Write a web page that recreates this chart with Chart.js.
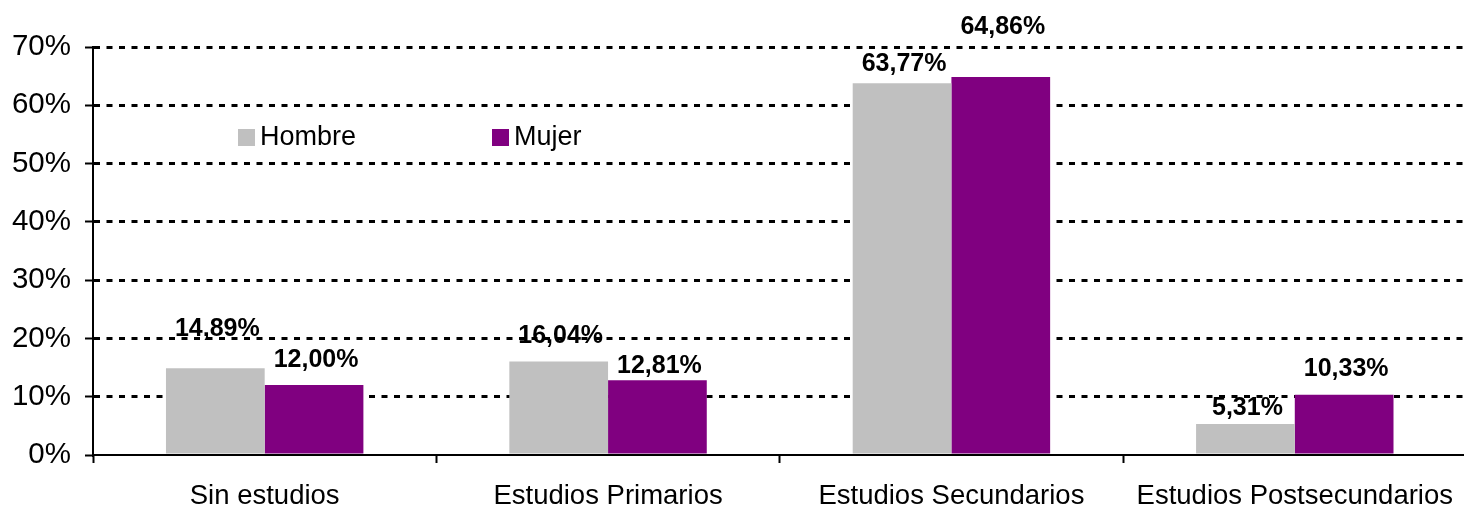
<!DOCTYPE html>
<html>
<head>
<meta charset="utf-8">
<script src="https://cdn.jsdelivr.net/npm/chart.js@4/dist/chart.umd.min.js"></script>
<style>
  html, body { margin: 0; padding: 0; background: #fff; overflow: hidden; }
  #wrap { width: 1470px; height: 507px; position: relative; }
</style>
</head>
<body>
<div id="wrap"><canvas id="eduChart"></canvas></div>
<script>
// Datos
const categorias = ['Sin estudios', 'Estudios Primarios', 'Estudios Secundarios', 'Estudios Postsecundarios'];
const hombre = [14.89, 16.04, 63.77, 5.31];
const mujer = [12.00, 12.81, 64.86, 10.33];
const ticksY = [0, 10, 20, 30, 40, 50, 60, 70];

const FONT = "'Liberation Sans', Arial, sans-serif";

// distancia (px) entre el tope de la barra y el centro de la etiqueta, como en el original
const labelLift = [[40, 26], [26, 15], [20, 51], [17, 27]];

function fmt(v) {
  return v.toFixed(2).replace('.', ',') + '%';
}

// Etiquetas de valor + leyenda dibujada a mano
const labelsPlugin = {
  id: 'labelsPlugin',
  afterDatasetsDraw(chart) {
    const c = chart.ctx;
    c.save();
    c.font = 'bold 25px ' + FONT;
    c.fillStyle = '#000';
    c.textAlign = 'center';
    c.textBaseline = 'middle';
    chart.data.datasets.forEach((ds, di) => {
      chart.getDatasetMeta(di).data.forEach((bar, i) => {
        c.fillText(fmt(ds.data[i]), bar.x + 2, bar.y - labelLift[i][di] + 1);
      });
    });
    c.restore();
  },
  afterDraw(chart) {
    const c = chart.ctx;
    const pos = [238, 492];
    c.save();
    c.font = '27px ' + FONT;
    c.textBaseline = 'middle';
    c.textAlign = 'left';
    chart.data.datasets.forEach((ds, di) => {
      c.fillStyle = ds.backgroundColor;
      c.fillRect(pos[di], 129, 17, 17);
      c.fillStyle = '#000';
      c.fillText(ds.label, pos[di] + 22, 138);
    });
    c.restore();
  }
};

const ctx = document.getElementById('eduChart').getContext('2d');

const eduChart = new Chart(ctx, {
  type: 'bar',
  data: {
    labels: categorias,
    datasets: [
      { label: 'Hombre', data: hombre, backgroundColor: '#C0C0C0', barPercentage: 1, categoryPercentage: 0.575 },
      { label: 'Mujer', data: mujer, backgroundColor: '#800080', barPercentage: 1, categoryPercentage: 0.575 }
    ]
  },
  options: {
    responsive: true,
    maintainAspectRatio: false,
    animation: false,
    layout: { padding: { top: 47, left: 0, right: 0, bottom: 0 } },
    plugins: {
      legend: { display: false },
      tooltip: { enabled: false }
    },
    scales: {
      x: {
        afterFit: s => { s.height = 52; },
        grid: { offset: true, drawOnChartArea: false, drawTicks: true, tickLength: 8, tickColor: '#000', tickWidth: 2 },
        border: { color: '#000', width: 2 },
        ticks: { color: '#000', font: { family: FONT, size: 27.5 }, padding: 17, maxRotation: 0 }
      },
      y: {
        min: 0,
        max: 70,
        afterFit: s => { s.width = 93; },
        afterBuildTicks: s => { s.ticks = ticksY.map(v => ({ value: v })); },
        grid: {
          color: c => c.tick && c.tick.value === 0 ? 'rgba(0,0,0,0)' : '#000',
          lineWidth: 3,
          tickLength: 8,
          tickColor: '#000',
          tickWidth: 2,
          tickBorderDash: []
        },
        // en v4 el trazo discontinuo de la rejilla va en border.dash
        border: { color: '#000', width: 2, dash: [6, 6.5] },
        ticks: {
          color: '#000',
          font: { family: FONT, size: 29.5 },
          padding: 14,
          callback: v => v + '%'
        }
      }
    }
  },
  plugins: [labelsPlugin]
});
</script>
</body>
</html>
